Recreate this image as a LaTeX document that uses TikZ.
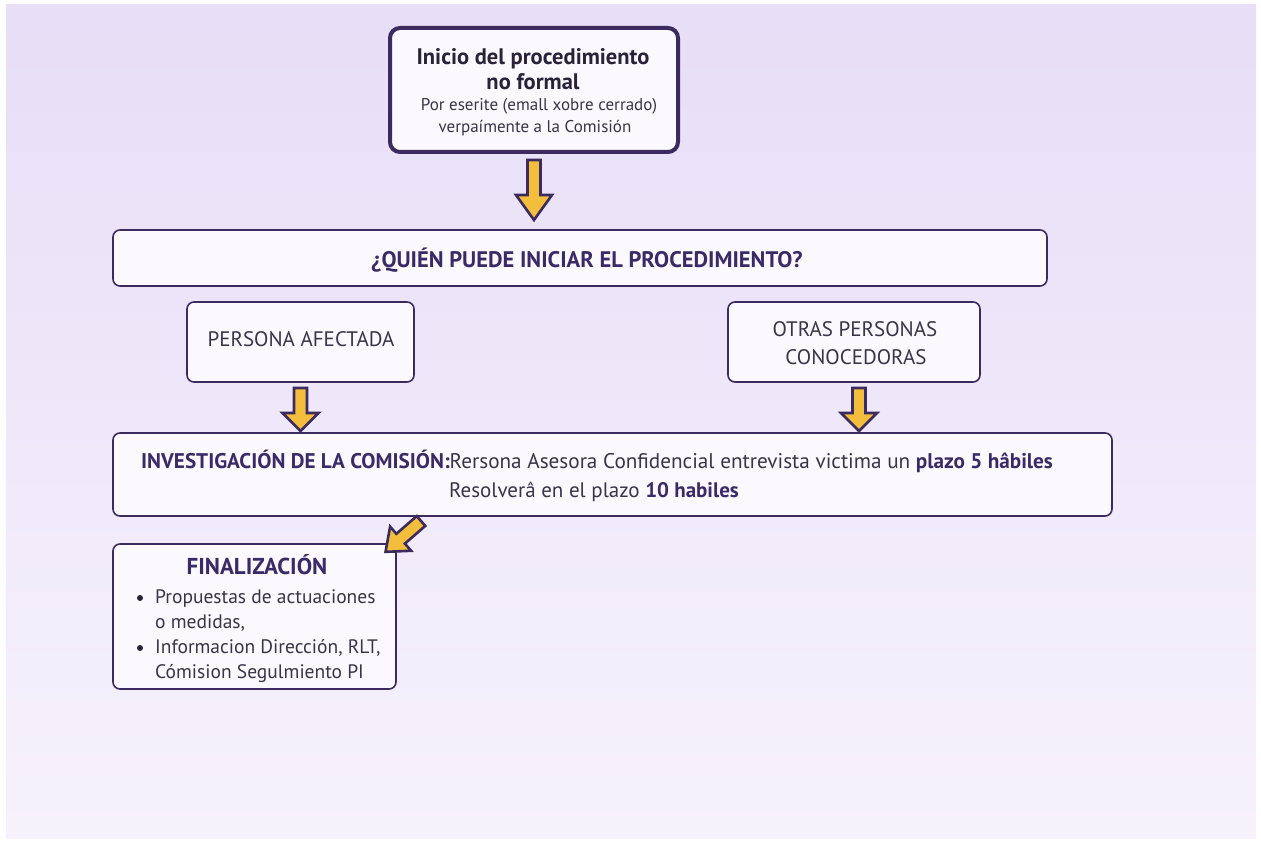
\documentclass[tikz,border=0pt]{standalone}
\usepackage{fontspec}
\setmainfont{PT Sans}
\usetikzlibrary{calc}
\definecolor{bordc}{HTML}{3B2B5E}
\definecolor{tpurple}{HTML}{3A2A66}
\definecolor{tdark}{HTML}{2A2238}
\definecolor{treg}{HTML}{3A3446}
\definecolor{boxfill}{HTML}{FBF9FE}
\definecolor{ayellow}{HTML}{F2BE3C}
\definecolor{bgtop}{HTML}{E7DEF7}
\definecolor{bgbot}{HTML}{F6F2FC}
\tikzset{
  box/.style={draw=bordc, line width=1.6pt, fill=boxfill, rounded corners=7pt, inner sep=0pt},
  topbox/.style={box, line width=4pt, rounded corners=10pt},
  txt/.style={inner sep=0pt, anchor=base, text=treg},
  ttl/.style={txt, text=tpurple, font=\bfseries\fontsize{22.5}{26}\selectfont},
  lbl/.style={txt, font=\fontsize{21}{25}\selectfont},
  bul/.style={txt, anchor=base west, font=\fontsize{19.5}{24}\selectfont},
  dot/.style={circle, fill=tdark, inner sep=0pt, minimum size=6pt},
  yarrow/.style={draw=bordc, line width=2.6pt, fill=ayellow, line join=miter},
}
\newcommand\yarr[6]{%
\begin{scope}[shift={(#1)}, rotate=#2]
\draw[yarrow] (0,-#5) -- ({#3-#4},-#5) -- ({#3-#4},-#6) -- (#3,0) -- ({#3-#4},#6) -- ({#3-#4},#5) -- (0,#5) -- cycle;
\end{scope}}
\begin{document}
\begin{tikzpicture}[x=1pt,y=-1pt]
\useasboundingbox (0,0) rectangle (1261,842);
\fill[white] (0,0) rectangle (1261,842);
\shade[top color=bgtop, bottom color=bgbot] (6,5) rectangle (1256,838);
% boxes
\node[topbox, minimum width=288pt, minimum height=124pt] (start) at (534,90) {};
\node[box, minimum width=934pt, minimum height=56pt] (quien) at (580,258) {};
\node[box, minimum width=227pt, minimum height=80pt] (afect) at (300.5,342) {};
\node[box, minimum width=252pt, minimum height=80pt] (otras) at (854,342) {};
\node[box, minimum width=999pt, minimum height=83pt] (invest) at (612.5,474.5) {};
\node[box, minimum width=283pt, minimum height=145pt] (final) at (254.5,616.5) {};
% texts
\node[ttl, text=tdark] (t1a) at (533,64.5) {Inicio del procedimiento};
\node[ttl, text=tdark] (t1b) at (533,89.5) {no formal};
\node[txt, font=\fontsize{17}{21}\selectfont] (t2a) at (539,111) {Por eserite (emall xobre cerrado)};
\node[txt, font=\fontsize{17}{21}\selectfont] (t2b) at (535,133) {verpaímente a la Comisión};
\node[ttl] (tq) at (587,267.5) {¿QUIÉN PUEDE INICIAR EL PROCEDIMIENTO?};
\node[lbl] (ta) at (301,346) {PERSONA AFECTADA};
\node[lbl] (toa) at (855,337) {OTRAS PERSONAS};
\node[lbl] (tob) at (856,364) {CONOCEDORAS};
\node[lbl, anchor=base west, font=\fontsize{21.2}{25}\selectfont] (ti1) at (141,468) {\textbf{\color{tpurple}INVESTIGACIÓN DE LA COMISIÓN:}Rersona Asesora Confidencial entrevista victima un \textbf{\color{tpurple}plazo 5 hâbiles}};
\node[lbl] (ti2) at (594,497) {Resolverâ en el plazo \textbf{\color{tpurple}10 habiles}};
\node[ttl, font=\bfseries\fontsize{23}{27}\selectfont] (tf) at (257,574.5) {FINALIZACIÓN};
\node[bul] (tb1) at (155,603.5) {Propuestas de actuaciones};
\node[bul] (tb2) at (155,628.5) {o medidas,};
\node[bul] (tb3) at (155,653.5) {Informacion Dirección, RLT,};
\node[bul] (tb4) at (155,678.5) {Cómision Segulmiento PI};
\node[dot] (b1) at (140,598) {};
\node[dot] (b2) at (140,648) {};
% arrows
\coordinate (a0) at (start.south |- 0,160);
\coordinate (a1) at (afect.south |- 0,388);
\coordinate (a2) at (859,388);
\coordinate (a3) at (421,521);
\yarr{a0}{-90}{60}{25}{6.5}{18}
\yarr{a1}{-90}{43}{18}{6.5}{18}
\yarr{a2}{-90}{43}{18}{6.5}{18}
\yarr{a3}{-139}{47}{20}{6.5}{16}
\end{tikzpicture}
\end{document}
